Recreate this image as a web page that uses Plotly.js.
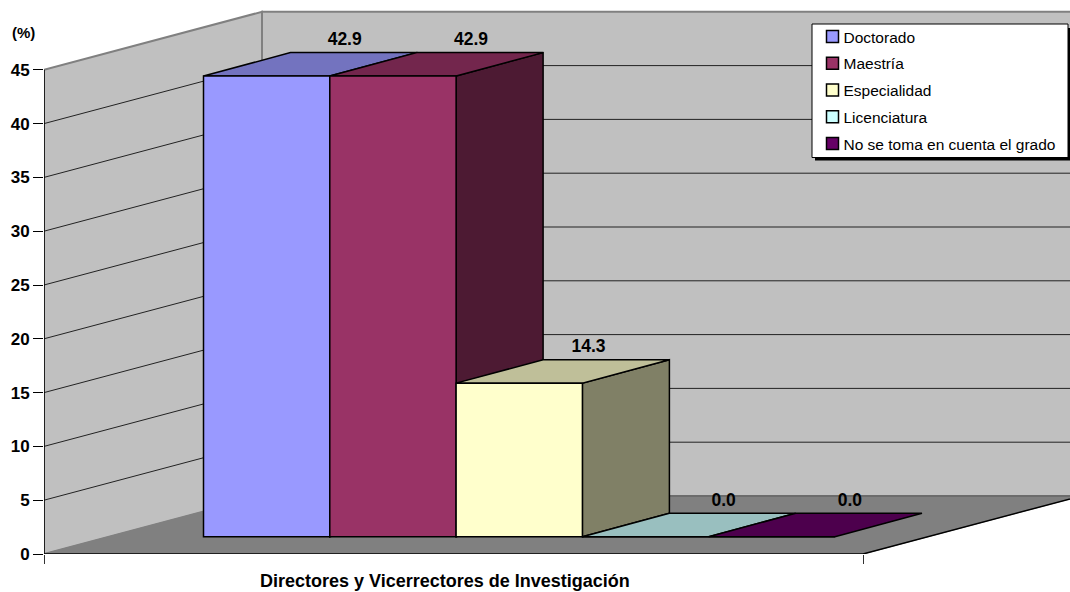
<!DOCTYPE html>
<html>
<head>
<meta charset="utf-8">
<script src="https://cdn.plot.ly/plotly-3.0.1.min.js"></script>
<style>html,body{margin:0;padding:0;background:#fff}#c{width:1070px;height:592px}</style>
</head>
<body>
<div id="c"></div>
<script>
// Data
const seriesNames = ['Doctorado', 'Maestría', 'Especialidad', 'Licenciatura', 'No se toma en cuenta el grado'];
const seriesValues = [42.9, 42.9, 14.3, 0.0, 0.0];
const categoryLabel = 'Directores y Vicerrectores de Investigación';
const yTicks = [0, 5, 10, 15, 20, 25, 30, 35, 40, 45];
// Styles
const frontColors = ['#9999ff', '#993366', '#ffffcc', '#ccffff', '#660066'];
const topColors = ['#7373bf', '#73264d', '#bfbf99', '#99bfbf', '#4d004d'];
const sideColors = ['#4d4d80', '#4d1a33', '#808066', '#668080', '#330033'];
// Projection geometry (axis units)
const PW = 1070, PH = 592, ML = 44, MB = 38;
const pxX = 126.3, pxY = 10.76;
const plotH = PH - MB;
const xLeft = -0.5 - (203.5 - ML) / pxX;
const xRight = xLeft + (PW - ML) / pxX;
const xFloorEnd = xLeft + (863 - ML) / pxX;
const yTop = plotH / pxY;
const barBase = 17.3 / pxY;
const barDX = 87 / pxX, barDY = 23.4 / pxY;
const wallDX = 218 / pxX, wallDY = 58 / pxY;
const valueScale = 0.998;
const labelDX = [0.618, 0.618, 0.548, 0.618, 0.618];
const labelLift = 0.3;
const FONT = 'Liberation Sans, Arial, sans-serif';
const labelFont = {family: FONT, size: 17.5, color: '#000'};
const poly = pts => 'M' + pts.map(p => p[0] + ',' + p[1]).join('L') + 'Z';
const line = pts => 'M' + pts.map(p => p[0] + ',' + p[1]).join('L');

const shapes = [];
// walls and floor
const wallTop = 45;
shapes.push({type: 'path', xref: 'x', yref: 'y', layer: 'below', fillcolor: '#c0c0c0',
  line: {color: '#808080', width: 2},
  path: poly([[xLeft, 0], [xLeft, wallTop], [xLeft + wallDX, wallTop + wallDY], [xLeft + wallDX, wallDY]])});
shapes.push({type: 'path', xref: 'x', yref: 'y', layer: 'below', fillcolor: '#c0c0c0',
  line: {color: '#808080', width: 2},
  path: poly([[xLeft + wallDX, wallDY], [xLeft + wallDX, wallTop + wallDY], [xRight + 1, wallTop + wallDY], [xRight + 1, wallDY]])});
shapes.push({type: 'path', xref: 'x', yref: 'y', layer: 'below', fillcolor: '#808080',
  line: {color: '#808080', width: 1},
  path: poly([[xLeft, 0], [xLeft + wallDX, wallDY], [xFloorEnd + wallDX, wallDY], [xFloorEnd, 0]])});
// floor outer edges
shapes.push({type: 'path', xref: 'x', yref: 'y', layer: 'below', line: {color: '#000', width: 1.5},
  path: line([[xLeft, 0], [xFloorEnd, 0], [xFloorEnd + wallDX, wallDY]])});
// gridlines
yTicks.filter(v => v > 0 && v < 45).forEach(v => {
  shapes.push({type: 'path', xref: 'x', yref: 'y', layer: 'below', line: {color: '#222', width: 1},
    path: line([[xLeft, v], [xLeft + wallDX, v + wallDY], [xRight + 1, v + wallDY]])});
});
// back-wall bottom edge
shapes.push({type: 'path', xref: 'x', yref: 'y', layer: 'below', line: {color: '#666', width: 1.5},
  path: line([[xLeft + wallDX, wallDY], [xRight + 1, wallDY]])});
// 3-D faces of each bar, left to right
seriesValues.forEach((v, i) => {
  const x0 = i - 0.5, x1 = i + 0.5, y0 = barBase, y1 = barBase + v * valueScale;
  const edge = {color: '#000', width: 1.5};
  if (v > 0) {
    shapes.push({type: 'path', xref: 'x', yref: 'y', layer: 'below', fillcolor: sideColors[i], line: edge,
      path: poly([[x1, y0], [x1, y1], [x1 + barDX, y1 + barDY], [x1 + barDX, y0 + barDY]])});
  }
  shapes.push({type: 'path', xref: 'x', yref: 'y', layer: 'below', fillcolor: topColors[i], line: edge,
    path: poly([[x0, y1], [x1, y1], [x1 + barDX, y1 + barDY], [x0 + barDX, y1 + barDY]])});
});
// legend shadow and frame (the native legend entries sit on top)
const pX = px => (px - ML) / (PW - ML);
const pY = py => (plotH - py) / plotH;
shapes.push({type: 'rect', xref: 'paper', yref: 'paper', layer: 'above', fillcolor: '#000', line: {width: 0},
  x0: pX(815), x1: pX(1071), y0: pY(160.5), y1: pY(28)});
shapes.push({type: 'rect', xref: 'paper', yref: 'paper', layer: 'above', fillcolor: '#fff', line: {color: '#000', width: 1},
  x0: pX(812), x1: pX(1068), y0: pY(157.5), y1: pY(24)});

const barTraces = seriesNames.map((name, i) => ({
  type: 'bar', name, x: [i], y: [seriesValues[i] * valueScale], base: [barBase], width: [1],
  legendgroup: name, hoverinfo: 'skip',
  marker: {color: frontColors[i], line: {color: '#000', width: 1.5}}
}));
const labels = {
  type: 'scatter', mode: 'text', showlegend: false, hoverinfo: 'skip', cliponaxis: false,
  x: seriesValues.map((v, i) => i + labelDX[i]),
  y: seriesValues.map(v => barBase + v * valueScale + barDY + labelLift),
  text: seriesValues.map(v => '<b>' + v.toFixed(1) + '</b>'),
  textposition: 'top center', textfont: labelFont
};
const yAxisLine = {
  type: 'scatter', mode: 'lines', showlegend: false, hoverinfo: 'skip', cliponaxis: false,
  x: [xLeft, xLeft], y: [0, 45], line: {color: '#000', width: 1.5}
};

Plotly.newPlot('c', [...barTraces, labels, yAxisLine], {
  width: PW, height: PH, autosize: false,
  margin: {l: ML, r: 0, t: 0, b: MB, pad: 0},
  paper_bgcolor: '#fff', plot_bgcolor: '#fff',
  barmode: 'overlay', showlegend: true,
  font: {family: FONT, color: '#000'},
  xaxis: {
    type: 'linear', range: [xLeft, xRight], showgrid: false, zeroline: false, showline: false,
    tickmode: 'array', tickvals: [xLeft, xFloorEnd], ticktext: ['', ''],
    ticks: 'outside', ticklen: 9, tickwidth: 1, tickcolor: '#333', fixedrange: true
  },
  yaxis: {
    type: 'linear', range: [0, yTop], showgrid: false, zeroline: false, showline: false,
    tickmode: 'array', tickvals: yTicks, ticktext: yTicks.map(v => '<b>' + v + '</b>'),
    ticks: 'outside', ticklen: 10, tickwidth: 1, tickcolor: '#000',
    tickfont: {family: FONT, size: 17, color: '#000'}, fixedrange: true
  },
  legend: {
    x: pX(812.5), xanchor: 'left', y: pY(20), yanchor: 'top',
    bgcolor: 'rgba(0,0,0,0)', borderwidth: 0,
    font: {family: FONT, size: 15.5, color: '#000'},
    itemwidth: 30, tracegroupgap: 3.6, traceorder: 'grouped',
    entrywidth: 212, entrywidthmode: 'pixels', itemclick: false, itemdoubleclick: false
  },
  annotations: [
    {xref: 'paper', yref: 'paper', x: pX(445), y: pY(581), xanchor: 'center', yanchor: 'middle', showarrow: false,
     text: '<b>' + categoryLabel + '</b>', font: {family: FONT, size: 18, color: '#000'}},
    {xref: 'paper', yref: 'paper', x: pX(23), y: pY(33), xanchor: 'center', yanchor: 'middle', showarrow: false,
     text: '<b>(%)</b>', font: {family: FONT, size: 15, color: '#000'}}
  ],
  shapes
}, {displayModeBar: false, staticPlot: true}).then(gd => {
  // Excel-style legend: text sits right next to the key
  gd.querySelectorAll('.legendtext').forEach(t => {
    t.setAttribute('x', parseFloat(t.getAttribute('x')) - 9);
  });
});
</script>
</body>
</html>
